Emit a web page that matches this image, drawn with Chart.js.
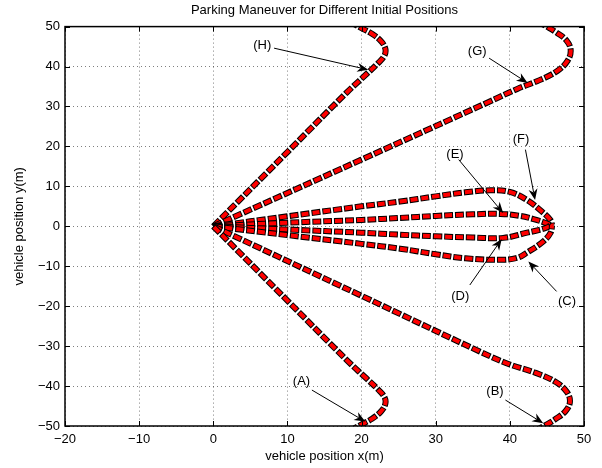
<!DOCTYPE html>
<html>
<head>
<meta charset="utf-8">
<script src="https://cdn.jsdelivr.net/npm/chart.js@4.4.0/dist/chart.umd.min.js"></script>
<style>
  html, body { margin: 0; padding: 0; background: #fff; }
</style>
</head>
<body>
<canvas id="chart" width="602" height="468"></canvas>
<script>
// axis ticks
const xTicks = [-20, -10, 0, 10, 20, 30, 40, 50]
const yTicks = [-50, -40, -30, -20, -10, 0, 10, 20, 30, 40, 50]

// trajectories (metres), from the parking spot outwards
const xA = [0, 10, 18, 20.6, 22.2, 23.1, 23.2, 22.6, 21.4, 20.0, 19.0]
const yA = [0, -18.6, -33.5, -38.0, -40.8, -42.8, -44.5, -46.4, -48.2, -49.6, -50.6]
const xB = [0, 20, 36, 40, 43.5, 46.2, 47.7, 48.1, 47.5, 46.2, 44.8, 44.0]
const yB = [0, -17.4, -31.4, -34.6, -36.7, -39.0, -41.5, -44.0, -46.3, -48.2, -49.8, -50.6]
const xC = [0, 10, 20, 25.2, 30, 34, 38.7, 41, 42.3, 44.5, 45.5, 45.7]
const yC = [0, -2.2, -4.4, -5.6, -7.0, -8.0, -8.4, -7.9, -6.6, -3.8, -1.6, 0.3]
const xD = [0, 10, 20, 25.2, 30, 35, 39.1, 42.3, 44, 45, 45.5]
const yD = [0, -0.8, -1.6, -2.1, -2.5, -2.8, -2.9, -1.6, -0.9, -0.3, 0.3]
const xE = [0, 10, 20, 25.2, 30, 35, 38.7, 41.4, 43.2, 44.6, 45.5]
const yE = [0, 0.9, 1.6, 2.1, 2.6, 3.0, 3.1, 2.6, 1.8, 1.0, 0.3]
const xF = [0, 10, 20, 25.2, 30, 34, 37.4, 40, 42.3, 44.5, 45.5, 45.7]
const yF = [0, 2.5, 5.0, 6.2, 7.5, 8.5, 9.0, 8.6, 6.6, 3.4, 1.5, 0.3]
const xG = [0, 20, 37, 41, 44, 46.4, 47.8, 48.2, 47.6, 46.3, 45.0, 44.2]
const yG = [0, 16.7, 31.0, 34.4, 36.6, 38.9, 41.5, 44.2, 46.6, 48.5, 50.0, 50.8]
const xH = [0, 10, 18, 20.6, 22.2, 23.1, 23.2, 22.6, 21.4, 20.0, 19.0]
const yH = [0, 18.6, 33.5, 38.0, 40.8, 42.8, 44.5, 46.4, 48.2, 49.6, 50.6]

// labels with arrows: label centre, arrow start, arrow tip (data units)
const notes = [
  { text: '(A)', lx: 11.9, ly: -38.9, sx: 13.3, sy: -41.0, ex: 20.5, ey: -48.9 },
  { text: '(B)', lx: 38.0, ly: -41.4, sx: 39.4, sy: -43.5, ex: 44.5, ey: -49.3 },
  { text: '(C)', lx: 47.7, ly: -18.8, sx: 46.3, sy: -16.3, ex: 42.5, ey: -8.8 },
  { text: '(D)', lx: 33.3, ly: -17.6, sx: 34.6, sy: -14.7, ex: 38.9, ey: -3.2 },
  { text: '(E)', lx: 32.6, ly: 17.9, sx: 33.1, sy: 16.7, ex: 39.1, ey: 3.3 },
  { text: '(F)', lx: 41.5, ly: 21.7, sx: 42.1, sy: 19.2, ex: 43.4, ey: 6.6 },
  { text: '(G)', lx: 35.6, ly: 43.8, sx: 37.2, sy: 42.1, ex: 42.4, ey: 35.9 },
  { text: '(H)', lx: 6.6, ly: 45.4, sx: 8.2, sy: 44.6, ex: 20.9, ey: 39.2 }
]

const FONT = '"Liberation Sans", Arial, Helvetica, sans-serif'
const fmt = v => (v < 0 ? '\u2212' + Math.abs(v) : String(v))

const paths = [[xA, yA], [xB, yB], [xC, yC], [xD, yD], [xE, yE], [xF, yF], [xG, yG], [xH, yH]]
const datasets = []
paths.forEach(([xs, ys]) => {
  const pts = xs.map((x, i) => ({ x: x, y: ys[i] }))
  // red car bodies on top of a slightly longer black dash = outlined rectangles
  datasets.push({
    data: pts, showLine: true, pointRadius: 0, tension: 0.4,
    borderColor: '#ff0000', borderWidth: 4, borderDash: [7, 4], borderDashOffset: -1,
    borderCapStyle: 'butt'
  })
  datasets.push({
    data: pts, showLine: true, pointRadius: 0, tension: 0.4,
    borderColor: '#000000', borderWidth: 6, borderDash: [9, 2],
    borderCapStyle: 'butt'
  })
})

const frame = {
  id: 'frame',
  afterDraw(chart) {
    const { ctx, chartArea: a, scales: { x, y } } = chart
    ctx.save()
    ctx.strokeStyle = '#000'
    ctx.lineWidth = 1
    // inward ticks on all four sides
    ctx.beginPath()
    xTicks.forEach(v => {
      const px = Math.round(x.getPixelForValue(v)) + 0.5
      ctx.moveTo(px, a.bottom); ctx.lineTo(px, a.bottom - 5)
      ctx.moveTo(px, a.top); ctx.lineTo(px, a.top + 5)
    })
    yTicks.forEach(v => {
      const py = Math.round(y.getPixelForValue(v)) + 0.5
      ctx.moveTo(a.left, py); ctx.lineTo(a.left + 5, py)
      ctx.moveTo(a.right, py); ctx.lineTo(a.right - 5, py)
    })
    ctx.stroke()
    ctx.lineWidth = 1.5
    ctx.strokeRect(a.left, a.top, a.right - a.left, a.bottom - a.top)

    // annotations
    ctx.font = '13px ' + FONT
    ctx.fillStyle = '#000'
    ctx.textAlign = 'center'
    ctx.textBaseline = 'middle'
    notes.forEach(n => {
      const sx = x.getPixelForValue(n.sx), sy = y.getPixelForValue(n.sy)
      const ex = x.getPixelForValue(n.ex), ey = y.getPixelForValue(n.ey)
      const len = Math.hypot(ex - sx, ey - sy)
      const ux = (ex - sx) / len, uy = (ey - sy) / len
      const L = 11, W = 4.5
      ctx.lineWidth = 1
      ctx.beginPath()
      ctx.moveTo(sx, sy)
      ctx.lineTo(ex - ux * L * 0.7, ey - uy * L * 0.7)
      ctx.stroke()
      ctx.beginPath()
      ctx.moveTo(ex, ey)
      ctx.lineTo(ex - ux * L - uy * W, ey - uy * L + ux * W)
      ctx.lineTo(ex - ux * L * 0.7, ey - uy * L * 0.7)
      ctx.lineTo(ex - ux * L + uy * W, ey - uy * L - ux * W)
      ctx.closePath()
      ctx.fill()
      ctx.fillText(n.text, x.getPixelForValue(n.lx), y.getPixelForValue(n.ly))
    })
    ctx.restore()
  }
}

new Chart(document.getElementById('chart'), {
  type: 'scatter',
  data: { datasets },
  plugins: [frame],
  options: {
    responsive: false,
    animation: false,
    devicePixelRatio: 1,
    layout: { padding: { left: 0, right: 18, top: 0, bottom: 0 } },
    elements: { line: { capBezierPoints: false } },
    plugins: {
      legend: { display: false },
      tooltip: { enabled: false },
      title: {
        display: true,
        fullSize: false,
        text: 'Parking Maneuver for Different Initial Positions',
        color: '#000',
        font: { family: FONT, size: 13, weight: 'normal' },
        padding: { top: 3, bottom: 8 }
      }
    },
    scales: {
      x: {
        type: 'linear', min: -20, max: 50,
        afterBuildTicks: s => { s.ticks = xTicks.map(v => ({ value: v })) },
        afterFit: s => { s.height = 42 },
        ticks: { color: '#000', font: { family: FONT, size: 13 }, padding: 6, callback: fmt, maxRotation: 0 },
        grid: { color: 'rgba(0,0,0,0.5)', drawTicks: false },
        border: { display: false, dash: [1, 3] },
        title: {
          display: true, text: 'vehicle position x(m)', color: '#000',
          font: { family: FONT, size: 13 }, padding: { top: 0, bottom: 4 }
        }
      },
      y: {
        type: 'linear', min: -50, max: 50,
        afterBuildTicks: s => { s.ticks = yTicks.map(v => ({ value: v })) },
        afterFit: s => { s.width = 65 },
        ticks: { color: '#000', font: { family: FONT, size: 13 }, padding: 5, callback: fmt },
        grid: { color: 'rgba(0,0,0,0.5)', drawTicks: false },
        border: { display: false, dash: [1, 3] },
        title: {
          display: true, text: 'vehicle position y(m)', color: '#000',
          font: { family: FONT, size: 13 }, padding: { top: 12, bottom: 0 }
        }
      }
    }
  }
})
</script>
</body>
</html>
